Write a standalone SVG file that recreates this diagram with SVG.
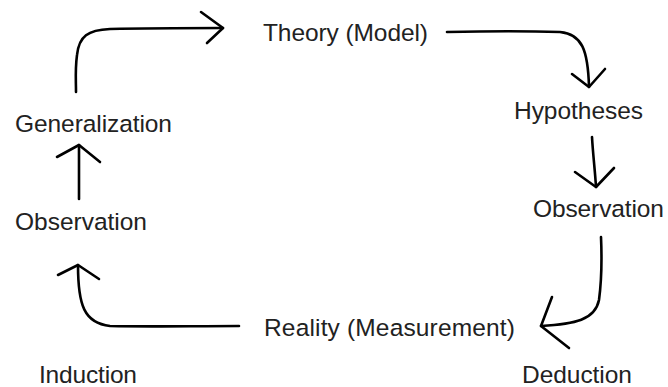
<svg xmlns="http://www.w3.org/2000/svg" width="668" height="387" viewBox="0 0 668 387">
<style>
text{font-family:"Liberation Sans",Arial,sans-serif;font-size:24.5px;fill:#222}
.c path{fill:none;stroke:#000;stroke-width:2.6;stroke-linecap:round;stroke-linejoin:round}
</style>
<rect width="668" height="387" fill="#fff"/>
<g id="theory"><text x="263" y="41" textLength="165">Theory (Model)</text></g>
<g id="hypotheses"><text x="514" y="119" textLength="129">Hypotheses</text></g>
<g id="observation-right"><text x="533" y="217" textLength="131">Observation</text></g>
<g id="reality"><text x="264" y="336" font-size="25" textLength="251">Reality (Measurement)</text></g>
<g id="deduction"><text x="522" y="383" textLength="110">Deduction</text></g>
<g id="induction"><text x="39" y="383" textLength="98">Induction</text></g>
<g id="observation-left"><text x="15" y="230" textLength="132">Observation</text></g>
<g id="generalization"><text x="15" y="132" textLength="157">Generalization</text></g>
<g class="c" id="connectors">
<path d="M76 92 C76 80 75 70 77 55 C79 36 88 30 110 29 C150 28 190 28 223 28"/>
<path d="M201 12 L223 28 L207 43"/>
<path d="M447 32 C490 31 530 31 560 32 C582 34 588 50 589 87"/>
<path d="M572 74 L589 87 L605 69"/>
<path d="M592 137 C593 155 595 170 596 187"/>
<path d="M575 172 L596 187 L614 168"/>
<path d="M601 237 C602 260 601 285 599 300 C595 320 575 324 541 326"/>
<path d="M552 297 L541 326 L569 348"/>
<path d="M239 326 C190 326 150 327 110 326 C84 323 78 305 78 265"/>
<path d="M58 275 L78 265 L99 279"/>
<path d="M79 199 L79 145"/>
<path d="M57 157 L79 145 L100 162"/>
</g>
</svg>
